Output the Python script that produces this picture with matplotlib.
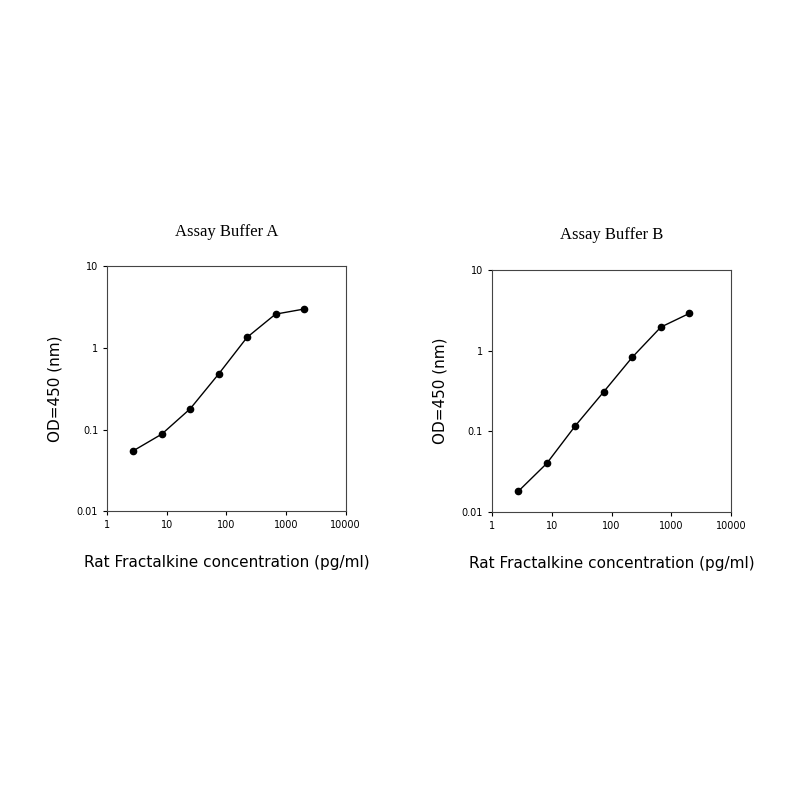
import matplotlib
matplotlib.use("Agg")
import matplotlib.pyplot as plt
from matplotlib.ticker import FixedLocator, FixedFormatter, NullLocator

conc = [2.74, 8.23, 24.7, 74.1, 222, 667, 2000]
od_a = [0.055, 0.088, 0.18, 0.48, 1.35, 2.6, 3.0]
od_b = [0.018, 0.040, 0.117, 0.31, 0.83, 1.96, 2.9]
titles = ["Assay Buffer A", "Assay Buffer B"]
xticks = [1, 10, 100, 1000, 10000]
xlabels = ["1", "10", "100", "1000", "10000"]
yticks = [0.01, 0.1, 1, 10]
ylabels = ["0.01", "0.1", "1", "10"]

fig = plt.figure(figsize=(8, 8), dpi=100)
positions = [[0.134, 0.361, 0.298, 0.306], [0.615, 0.36, 0.299, 0.3025]]
for pos, od, title in zip(positions, [od_a, od_b], titles):
    ax = fig.add_axes(pos)
    ax.plot(conc, od, color="black", lw=1)
    ax.plot(conc, od, "o", color="black", ms=4.5)
    ax.set_xscale("log"); ax.set_yscale("log")
    ax.set_xlim(1, 10000); ax.set_ylim(0.01, 10)
    ax.xaxis.set_major_locator(FixedLocator(xticks))
    ax.xaxis.set_major_formatter(FixedFormatter(xlabels))
    ax.yaxis.set_major_locator(FixedLocator(yticks))
    ax.yaxis.set_major_formatter(FixedFormatter(ylabels))
    ax.xaxis.set_minor_locator(NullLocator()); ax.yaxis.set_minor_locator(NullLocator())
    ax.tick_params(labelsize=7, length=3, width=0.8)
    for s in ax.spines.values():
        s.set_linewidth(0.8); s.set_color("#444444")
    ax.set_title(title, family="Liberation Serif", fontsize=12, pad=22)
    ax.set_xlabel("Rat Fractalkine concentration (pg/ml)", fontsize=11, labelpad=18)
    ax.set_ylabel("OD=450 (nm)", fontsize=11, labelpad=10)
fig.savefig("out.png", dpi=100, facecolor="white")
